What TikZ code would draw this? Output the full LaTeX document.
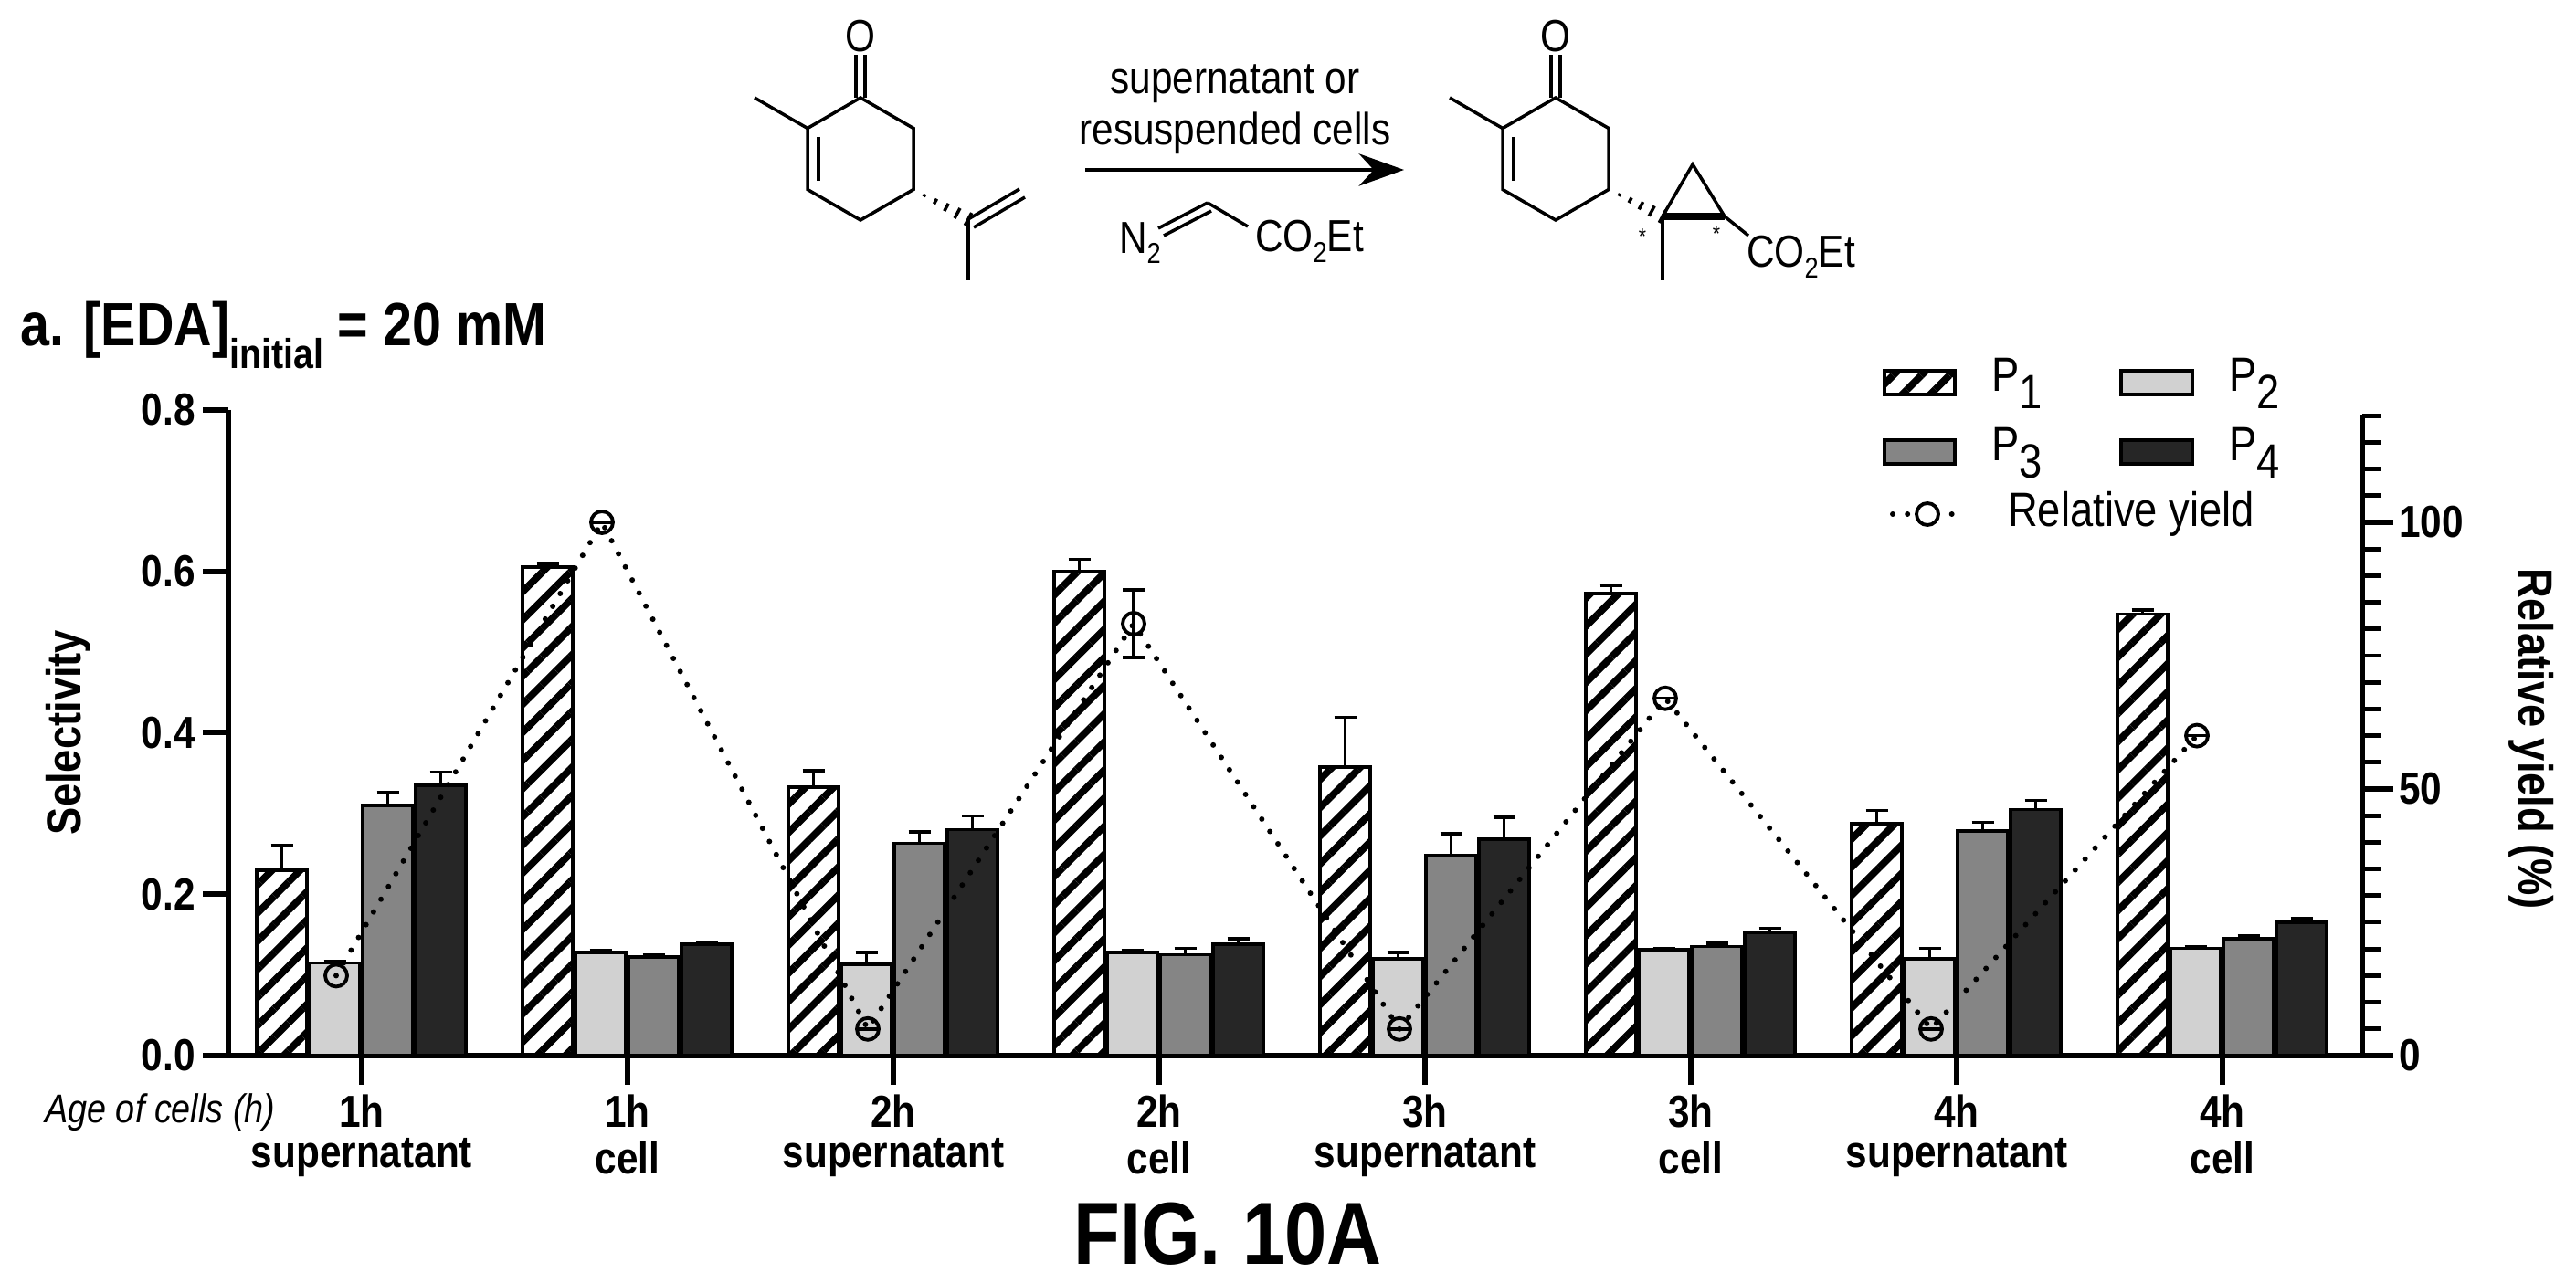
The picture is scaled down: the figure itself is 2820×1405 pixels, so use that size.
\documentclass[tikz,border=0pt]{standalone}
\usepackage{fontspec}
\setmainfont{Liberation Sans}[FakeStretch=0.86]
\usetikzlibrary{patterns.meta,arrows.meta,calc}
\newcommand\lsub[1]{\raisebox{-0.7ex}{#1}}
\newcommand\csub[1]{\raisebox{-0.45ex}{\small #1}}
\tikzset{
  ax/.style={line width=1.7pt},
  bond/.style={line width=1pt},
  pone/.style={draw=black,line width=1.1pt,pattern={Lines[angle=45,distance=6.2pt,line width=2.2pt]}},
  ptwo/.style={draw=black,line width=1pt,fill=black!18},
  pthree/.style={draw=black,line width=1pt,fill=black!48},
  pfour/.style={draw=black,line width=1pt,fill=black!85},
  ebar/.style={line width=1pt},
  ryline/.style={line width=1.7pt,dash pattern=on 0pt off 4.6pt,line cap=round},
  rycirc/.style={draw=black,line width=1.1pt},
  tick/.style={font=\fontsize{14}{16}\selectfont\bfseries,inner sep=1pt},
  glab/.style={font=\fontsize{14}{16}\selectfont\bfseries,inner sep=1pt},
  chem/.style={font=\fontsize{14}{16}\selectfont,inner sep=1pt},
  leg/.style={font=\fontsize{15}{17}\selectfont,inner sep=1pt,anchor=west},
}
\newcommand\onebar[5]{%
  \pgfmathsetmacro\bl{396+291*#1+#2}%
  \pgfmathsetmacro\br{\bl+55}%
  \pgfmathsetmacro\bc{\bl+27.5}%
  \pgfmathsetmacro\bt{1156-#3*884}%
  \pgfmathsetmacro\be{1156-(#3+#4)*884}%
  \draw[#5] (\bl,1156) rectangle (\br,\bt);
  \draw[ebar] (\bc,\bt) -- (\bc,\be);
  \draw[ebar] ({\bc-12},\be) -- ({\bc+12},\be);
}
\newcommand\grp[9]{%
  \onebar{#1}{-115}{#2}{#3}{pone}
  \onebar{#1}{-57}{#4}{#5}{ptwo}
  \onebar{#1}{1}{#6}{#7}{pthree}
  \onebar{#1}{59}{#8}{#9}{pfour}
}
\begin{document}
\begin{tikzpicture}[x=0.1mm,y=-0.1mm]
\useasboundingbox (0,0) rectangle (2820,1405);
\fill[white] (0,0) rectangle (2820,1405);

% ---------- chemistry ----------
\begin{scope}
 \node[chem] (O1) at (942,40) {O};
 \coordinate (a1) at (942,107); \coordinate (a2) at (884,140.5); \coordinate (a3) at (884,207.5);
 \coordinate (a4) at (942,241); \coordinate (a5) at (1000,207.5); \coordinate (a6) at (1000,140.5);
 \draw[bond] (a1)--(a2)--(a3)--(a4)--(a5)--(a6)--cycle;
 \draw[bond] (937,107)--(937,60) (947,107)--(947,60);
 \draw[bond] (a2)--(826,107);
 \draw[bond] (896,150)--(896,198);
 \coordinate (ai) at (1060,240);
 \foreach \t in {0.2,0.4,0.6,0.8,1.0}{\draw[bond] ($(a5)!\t!(ai)+(-3.7*\t,6.9*\t)$)--($(a5)!\t!(ai)+(3.7*\t,-6.9*\t)$);}
 \draw[bond] (ai)--(1116,207) (1066,249)--(1122,216);
 \draw[bond] (ai)--(1060,307);
\end{scope}
\node[chem,align=center] (cond) at (1352,120) {supernatant or\\resuspended cells};
\coordinate (arrA) at (1188,186); \coordinate (arrB) at (1537,186);
\draw[line width=1.4pt,-{Stealth[length=14pt,width=10pt]}] (arrA)--(arrB);
\node[chem] (N2) at (1248,266) {N\csub{2}};
\node[chem,anchor=west] (eda) at (1370,264) {CO\csub{2}Et};
\draw[bond] (1268,250)--(1322,222) (1274,258)--(1326,231);
\draw[bond] (1322,222)--(1366,248);
\begin{scope}[xshift=76.1mm]
 \node[chem] (O2) at (942,40) {O};
 \coordinate (b1) at (942,107); \coordinate (b2) at (884,140.5); \coordinate (b3) at (884,207.5);
 \coordinate (b4) at (942,241); \coordinate (b5) at (1000,207.5); \coordinate (b6) at (1000,140.5);
 \draw[bond] (b1)--(b2)--(b3)--(b4)--(b5)--(b6)--cycle;
 \draw[bond] (937,107)--(937,60) (947,107)--(947,60);
 \draw[bond] (b2)--(826,107);
 \draw[bond] (896,150)--(896,198);
\end{scope}
\coordinate (c5) at (1761,207.5); \coordinate (ca) at (1820,237); \coordinate (cb) at (1888,237); \coordinate (ct) at (1853,180);
\foreach \t in {0.2,0.4,0.6,0.8,1.0}{\draw[bond] ($(c5)!\t!(ca)+(-3.7*\t,6.9*\t)$)--($(c5)!\t!(ca)+(3.7*\t,-6.9*\t)$);}
\draw[bond] (ca)--(ct)--(cb);
\draw[line width=2pt] (ca)--(cb);
\draw[bond] (ca)--(1820,307);
\draw[bond] (cb)--(1914,258);
\node[chem,anchor=west] (prodest) at (1908,281) {CO\csub{2}Et};
\node[font=\fontsize{7}{8}\selectfont,inner sep=0pt] (s1) at (1798,259) {*};
\node[font=\fontsize{7}{8}\selectfont,inner sep=0pt] (s2) at (1879,256) {*};

% ---------- title ----------
\node[anchor=west,font=\fontsize{19}{22}\selectfont\bfseries,inner sep=0pt] (title) at (22,367) {a. [EDA]\lsub{\fontsize{13}{15}\selectfont initial} = 20 mM};

% ---------- axes ----------
\draw[ax] (250,449)--(250,1156)--(2586,1156);
\draw[ax] (2586,1156)--(2586,455);
\foreach \v/\l in {0/0.0,0.2/0.2,0.4/0.4,0.6/0.6,0.8/0.8}{
  \draw[ax] (222,{1156-\v*884})--(250,{1156-\v*884});
  \node[tick,anchor=east] at (218,{1156-\v*884}) {\l};
}
\foreach \p in {5,10,...,120}{\draw[line width=1.4pt] (2586,{1156-\p*5.84})--(2606,{1156-\p*5.84});}
\foreach \p in {0,50,100}{
  \draw[ax] (2586,{1156-\p*5.84})--(2620,{1156-\p*5.84});
  \node[tick,anchor=west] at (2622,{1156-\p*5.84}) {\p};
}
\node[rotate=90,font=\fontsize{15}{18}\selectfont\bfseries] (ylab) at (75,802) {Selectivity};
\node[rotate=-90,font=\fontsize{15}{18}\selectfont\bfseries] (y2lab) at (2771,809) {Relative yield (\%)};

% ---------- bars ----------
\grp{0}{0.230}{0.030}{0.115}{0.002}{0.310}{0.016}{0.335}{0.016}
\grp{1}{0.605}{0.005}{0.128}{0.002}{0.122}{0.003}{0.138}{0.003}
\grp{2}{0.333}{0.020}{0.113}{0.015}{0.263}{0.014}{0.280}{0.017}
\grp{3}{0.600}{0.015}{0.128}{0.002}{0.125}{0.008}{0.138}{0.007}
\grp{4}{0.357}{0.062}{0.120}{0.008}{0.248}{0.027}{0.268}{0.027}
\grp{5}{0.572}{0.010}{0.131}{0.002}{0.135}{0.004}{0.152}{0.006}
\grp{6}{0.287}{0.017}{0.120}{0.013}{0.278}{0.011}{0.305}{0.011}
\grp{7}{0.547}{0.005}{0.133}{0.002}{0.145}{0.004}{0.165}{0.005}

% ---------- relative yield ----------
\foreach \k/\r in {0/15,1/100,2/5,3/81,4/5,5/67,6/5,7/60}{
  \coordinate (ry\k) at ({396+291*\k-28},{1156-\r*5.84});
}
\draw[ryline] (ry0)--(ry1)--(ry2)--(ry3)--(ry4)--(ry5)--(ry6)--(ry7);
\foreach \k in {0,...,7}{\draw[rycirc] (ry\k) circle (12);}
\foreach \k in {1,2,4,5,6,7}{\draw[line width=1pt] ($(ry\k)+(-10,0)$)--($(ry\k)+(10,0)$);}
\draw[ebar] ($(ry3)+(0,-37)$)--($(ry3)+(0,37)$) ($(ry3)+(-12,-37)$)--($(ry3)+(12,-37)$) ($(ry3)+(-12,37)$)--($(ry3)+(12,37)$);

% ---------- x labels ----------
\foreach \k/\h/\w in {0/1h/supernatant,1/1h/cell,2/2h/supernatant,3/2h/cell,4/3h/supernatant,5/3h/cell,6/4h/supernatant,7/4h/cell}{
  \draw[ax] ({396+291*\k},1156)--({396+291*\k},1188);
  \node[glab] (gl\k) at ({396+291*\k},1217) {\h};
  \node[glab] (gw\k) at ({396+291*\k},1268) {\w};
}
\node[anchor=east,font=\fontsize{12.5}{14}\selectfont\itshape,inner sep=0pt] (age) at (302,1218) {Age of cells (h)};

% ---------- legend ----------
\draw[pone] (2063,406) rectangle (2140,432);
\node[leg] (l1) at (2176,420) {P\lsub{1}};
\draw[ptwo] (2322,406) rectangle (2400,432);
\node[leg] (l2) at (2436,420) {P\lsub{2}};
\draw[pthree] (2063,482) rectangle (2140,508);
\node[leg] (l3) at (2176,496) {P\lsub{3}};
\draw[pfour] (2322,482) rectangle (2400,508);
\node[leg] (l4) at (2436,496) {P\lsub{4}};
\coordinate (lr1) at (2072,563); \coordinate (lr2) at (2148,563); \coordinate (lrc) at (2110,563);
\draw[ryline] (lr1)--(lr2);
\draw[rycirc,fill=white] (lrc) circle (12);
\node[leg] (l5) at (2194,563) {Relative yield};

% ---------- caption ----------
\node[font=\fontsize{27.5}{32}\selectfont\bfseries] (fig) at (1344,1351) {FIG. 10A};
\end{tikzpicture}
\end{document}
